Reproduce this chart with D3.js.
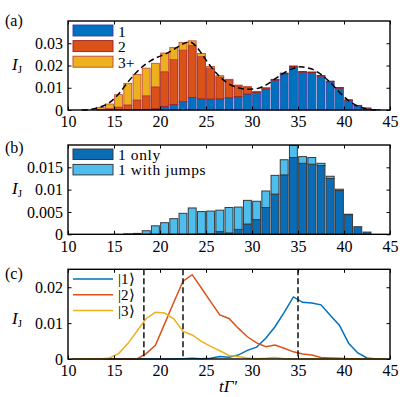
<!DOCTYPE html>
<html>
<head>
<meta charset="utf-8">
<script src="https://cdnjs.cloudflare.com/ajax/libs/d3/7.8.5/d3.min.js"></script>
<style>
  body { margin: 0; background: #fff; }
  text { font-family: "Liberation Serif", serif; fill: #000; }
  .tick text { font-size: 16px; }
  .tick line { stroke: #000; }
</style>
</head>
<body>
<svg id="fig" width="415" height="397"></svg>
<script>
// ---- data ----
var xTicks = [10, 15, 20, 25, 30, 35, 40, 45];

// (a) stacked histogram, bins [k, k+1]
var binsA  = [13,14,15,16,17,18,19,20,21,22,23,24,25,26,27,28,29,30,31,32,33,34,35,36,37,38,39,40,41,42,43];
var oneA   = [0,0,0,0,0.0001,0.0003,0.0006,0.0016,0.0025,0.0037,0.0056,0.0050,0.0049,0.0050,0.0055,0.0060,0.0072,0.0079,0.0095,0.0134,0.0163,0.0195,0.0170,0.0168,0.0152,0.0127,0.0098,0.0044,0.0019,0.0008,0.0002];
var twoA   = [0.0003,0.0006,0.0013,0.0023,0.0044,0.0061,0.0098,0.0156,0.0202,0.0232,0.0234,0.0190,0.0139,0.0098,0.0079,0.0049,0.0031,0.0004,0.0004,0.0004,0.0003,0.0003,0.0003,0.0003,0.0003,0.0003,0.0003,0.0002,0.0002,0.0001,0];
var threeA = [0.0009,0.0021,0.0056,0.0097,0.0115,0.0124,0.0106,0.0084,0.0054,0.0034,0.0021,0.0014,0.0008,0.0006,0.0004,0.0003,0.0002,0.0001,0.0001,0,0,0,0,0,0,0,0,0,0,0,0];
var yTicksA = [0, 0.01, 0.02, 0.03];
// dashed envelope
var fitT = [11.5,12.5,13.5,14.5,15.5,16.5,17.5,18.5,19.5,20.5,21.5,22.5,23.2,24,24.5,25.5,26.5,27.5,28.5,29.5,30.5,31.5,32.5,33.5,34.5,35.3,36,36.5,37.5,38.5,39.5,40.5,41.5,42.5,43.5];
var fitV = [0,0.0003,0.0013,0.0033,0.0072,0.0125,0.0172,0.0208,0.0233,0.0250,0.0272,0.0297,0.0306,0.0283,0.0255,0.0196,0.0150,0.0117,0.0100,0.0093,0.0096,0.0112,0.0140,0.0167,0.0187,0.0194,0.0190,0.0184,0.0160,0.0124,0.0080,0.0042,0.0017,0.0005,0];

// (b)
var binsB  = [16,17,18,19,20,21,22,23,24,25,26,27,28,29,30,31,32,33,34,35,36,37,38,39,40,41,42];
var onlyB  = [0,0,0,0,0,0,0,0,0.0001,0.0001,0.0006,0.0003,0.0011,0.0023,0.0033,0.0060,0.0090,0.0133,0.0172,0.0159,0.0157,0.0154,0.0125,0.0098,0.0044,0.0017,0.0005];
var jumpsB = [0.0001,0.0002,0.0008,0.0019,0.0026,0.0035,0.0047,0.0059,0.0050,0.0051,0.0048,0.0057,0.0050,0.0053,0.0041,0.0037,0.0042,0.0034,0.0027,0.0015,0.0015,0.0005,0.0005,0.0003,0.0001,0,0];
var yTicksB = [0, 0.005, 0.01, 0.015];

// (c)
var tC = [10.5,11.5,12.5,13.5,14.5,15.5,16.5,17.5,18.5,19.5,20.5,21.5,22.5,23.5,24.5,25.5,26.5,27.5,28.5,29.5,30.5,31.5,32.5,33.5,34.5,35.5,36.5,37.5,38.5,39.5,40.5,41.5,42.5,43.5,44.5];
var ket1 = [0,0,0,0,0,0,0,0,0,0,0,0,0.0001,0.0002,0.0001,0.0002,0.0007,0.0005,0.0011,0.0024,0.0033,0.0058,0.0090,0.0130,0.0173,0.0158,0.0156,0.0151,0.0122,0.0094,0.0044,0.0017,0.0003,0,0];
var ket2 = [0,0,0,0,0,0,0,0,0.0015,0.0038,0.0098,0.0158,0.0217,0.0235,0.0198,0.0160,0.0123,0.0113,0.0086,0.0062,0.0045,0.0034,0.0039,0.0030,0.0020,0.0014,0.0011,0.0004,0.0003,0.0002,0.0001,0,0,0,0];
var ket3 = [0,0,0,0,0.0003,0.0015,0.0043,0.0078,0.0113,0.0130,0.0128,0.0112,0.0077,0.0067,0.0049,0.0035,0.0023,0.0010,0.0007,0.0003,0.0001,0.0002,0.0004,0.0001,0,0,0,0,0,0,0,0,0,0,0];
var vLines = [18.25, 22.5, 35];
var yTicksC = [0, 0.01, 0.02];

var blue = "#0072BD", orange = "#D95319", yellow = "#EDB120";
var darkBlue = "#0A6CB5", lightBlue = "#4DBEEE";

var svg = d3.select("#fig");
var x = d3.scaleLinear().domain([10, 45]).range([68, 390]);

var yA = d3.scaleLinear().domain([0, 0.04]).range([110, 21]);
var yB = d3.scaleLinear().domain([0, 0.02]).range([234.3, 145]);
var yC = d3.scaleLinear().domain([0, 0.025]).range([359, 269.3]);

function axes(y, yTicks) {
  var b = y.range()[0], t = y.range()[1];
  var g = svg.append("g");
  g.append("g").attr("transform", "translate(0," + b + ")")
    .call(d3.axisBottom(x).tickValues(xTicks).tickSize(-3.5).tickPadding(6).tickFormat(d3.format("d")));
  g.append("g").attr("transform", "translate(0," + t + ")")
    .call(d3.axisTop(x).tickValues(xTicks).tickSize(-3.5).tickFormat(""));
  g.append("g").attr("transform", "translate(68,0)")
    .call(d3.axisLeft(y).tickValues(yTicks).tickSize(-3.5).tickPadding(5).tickFormat(function(d) { return String(d); }));
  g.append("g").attr("transform", "translate(390,0)")
    .call(d3.axisRight(y).tickValues(yTicks).tickSize(-3.5).tickFormat(""));
  g.selectAll(".domain").remove();
  g.selectAll(".tick text").attr("font-family", null).attr("font-size", null);
  g.append("rect").attr("x", 68).attr("y", t).attr("width", 322).attr("height", b - t)
    .attr("fill", "none").attr("stroke", "#000").attr("stroke-width", 1.4);
}

function ijLabel(yBase) {
  var t = svg.append("text").attr("x", 12).attr("y", yBase).attr("font-size", 17).attr("font-style", "italic").text("I");
  t.append("tspan").attr("font-style", "normal").attr("font-size", 11).attr("dy", 3).text("J");
}

function panelLabel(s, yBase) {
  svg.append("text").attr("x", 5).attr("y", yBase).attr("font-size", 16).text(s);
}

// ---------- (a) ----------
var rowsA = binsA.map(function(k, i) { return { bin: k, one: oneA[i], two: twoA[i], three: threeA[i] }; });
var stackA = d3.stack().keys(["one", "two", "three"])(rowsA);
var fillA = { one: blue, two: orange, three: yellow };
var edgeA = { one: "#3a3aa8", two: "#9e1c1c", three: "#c0443a" };

stackA.forEach(function(layer) {
  svg.append("g").selectAll("rect")
    .data(layer.filter(function(d) { return d[1] - d[0] > 0; }))
    .enter().append("rect")
    .attr("x", function(d) { return x(d.data.bin + 0.07); })
    .attr("width", function(d) { return x(d.data.bin + 0.93) - x(d.data.bin + 0.07); })
    .attr("y", function(d) { return yA(d[1]); })
    .attr("height", function(d) { return yA(d[0]) - yA(d[1]); })
    .attr("fill", fillA[layer.key])
    .attr("stroke", edgeA[layer.key])
    .attr("stroke-width", 0.8);
});

svg.append("path")
  .datum(fitT.map(function(t, i) { return [t, fitV[i]]; }))
  .attr("fill", "none").attr("stroke", "#000").attr("stroke-width", 1.5)
  .attr("stroke-dasharray", "6,3.5")
  .attr("d", d3.line().curve(d3.curveMonotoneX)
    .x(function(d) { return x(d[0]); }).y(function(d) { return yA(d[1]); }));

axes(yA, yTicksA);
panelLabel("(a)", 26);
ijLabel(70);

var legA = [["1", "one"], ["2", "two"], ["3+", "three"]];
legA.forEach(function(l, i) {
  var yy = 25 + i * 15.6;
  svg.append("rect").attr("x", 73).attr("y", yy).attr("width", 40).attr("height", 11)
    .attr("fill", fillA[l[1]]).attr("stroke", edgeA[l[1]]).attr("stroke-width", 0.9);
  svg.append("text").attr("x", 118).attr("y", yy + 11.5).attr("font-size", 15.5).text(l[0]);
});

// ---------- (b) ----------
var rowsB = binsB.map(function(k, i) { return { bin: k, only: onlyB[i], jumps: jumpsB[i] }; });
var stackB = d3.stack().keys(["only", "jumps"])(rowsB);
var fillB = { only: darkBlue, jumps: lightBlue };

stackB.forEach(function(layer) {
  svg.append("g").selectAll("rect")
    .data(layer.filter(function(d) { return d[1] - d[0] > 0; }))
    .enter().append("rect")
    .attr("x", function(d) { return x(d.data.bin + 0.07); })
    .attr("width", function(d) { return x(d.data.bin + 0.93) - x(d.data.bin + 0.07); })
    .attr("y", function(d) { return yB(d[1]); })
    .attr("height", function(d) { return yB(d[0]) - yB(d[1]); })
    .attr("fill", fillB[layer.key])
    .attr("stroke", "#3a3a3a")
    .attr("stroke-width", 1);
});

axes(yB, yTicksB);
panelLabel("(b)", 153);
ijLabel(194);

var legB = [["1 only", "only"], ["1 with jumps", "jumps"]];
legB.forEach(function(l, i) {
  var yy = 149 + i * 15.4;
  svg.append("rect").attr("x", 73).attr("y", yy).attr("width", 40).attr("height", 10.5)
    .attr("fill", fillB[l[1]]).attr("stroke", "#3a3a3a").attr("stroke-width", 1);
  svg.append("text").attr("x", 118).attr("y", yy + 10.5).attr("font-size", 15.5)
    .attr("letter-spacing", 0.6).text(l[0]);
});

// ---------- (c) ----------
var line = d3.line().x(function(d) { return x(d[0]); }).y(function(d) { return yC(d[1]); });
var series = [[ket1, blue, "|1\u27E9"], [ket2, orange, "|2\u27E9"], [ket3, yellow, "|3\u27E9"]];

series.forEach(function(s) {
  svg.append("path")
    .datum(tC.map(function(t, i) { return [t, s[0][i]]; }))
    .attr("fill", "none").attr("stroke", s[1]).attr("stroke-width", 1.5)
    .attr("d", line);
});

svg.append("g").selectAll("line").data(vLines).enter().append("line")
  .attr("x1", function(d) { return x(d); }).attr("x2", function(d) { return x(d); })
  .attr("y1", yC.range()[1]).attr("y2", yC.range()[0])
  .attr("stroke", "#000").attr("stroke-width", 1.4).attr("stroke-dasharray", "6,3");

axes(yC, yTicksC);
panelLabel("(c)", 279);
ijLabel(324);

series.forEach(function(s, i) {
  var yy = 279 + i * 15.8;
  svg.append("line").attr("x1", 73).attr("x2", 113).attr("y1", yy).attr("y2", yy)
    .attr("stroke", s[1]).attr("stroke-width", 1.5);
  svg.append("text").attr("x", 118).attr("y", yy + 5).attr("font-size", 15).text(s[2]);
});

svg.append("text").attr("x", 228).attr("y", 392).attr("text-anchor", "middle")
  .attr("font-size", 17).attr("font-style", "italic").text("t\u0393\u2032");
</script>
</body>
</html>
